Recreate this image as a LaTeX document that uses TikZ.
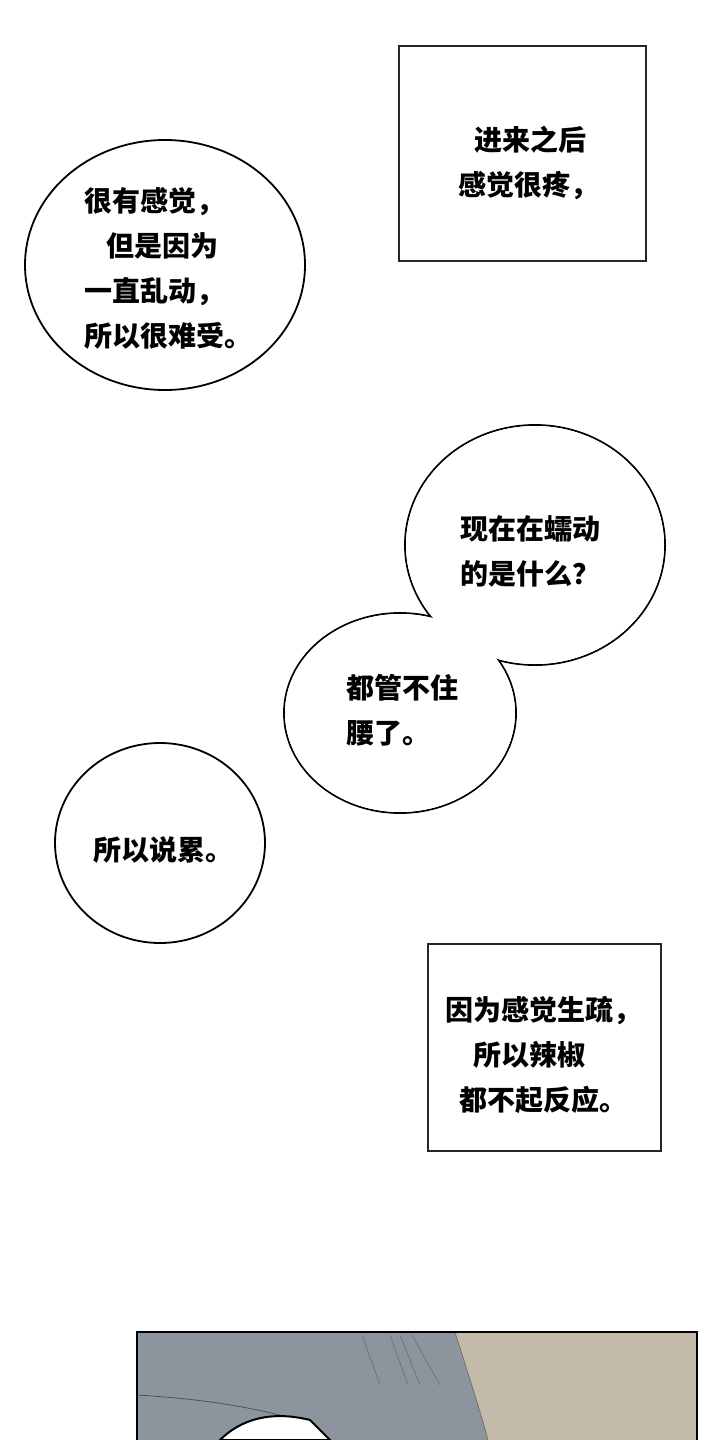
\documentclass[tikz,border=0pt]{standalone}
\usepackage{fontspec}
\newfontfamily\cjk{Noto Sans CJK SC}
\definecolor{pgray}{RGB}{140,148,158}
\definecolor{pbeige}{RGB}{196,186,170}
\begin{document}
\begin{tikzpicture}[x=1pt,y=-1pt,
  bub/.style={draw=black,line width=1.8pt,fill=white},
  box/.style={draw=black!85,line width=1.8pt,fill=white},
  txt/.style={font=\cjk\bfseries\fontsize{28}{45}\selectfont,align=left,anchor=center}]
\useasboundingbox (0,0) rectangle (720,1440);
\fill[white] (0,0) rectangle (720,1440);
% bubble 1
\draw[bub] (165,265) ellipse [x radius=140,y radius=125];
\node[txt] (t1) at (168,268) {很有感觉，\\\hspace{0.8em}但是因为\\一直乱动，\\所以很难受。};
% box 1
\node[box,minimum width=247,minimum height=215,anchor=north west] (b1) at (398,45) {};
\node[txt] (t2) at (528,163) {\hspace{0.6em}进来之后\\感觉很疼，};
% double bubble
\draw[bub] (535,545) ellipse [x radius=130,y radius=120];
\draw[bub] (400,713) ellipse [x radius=116,y radius=100];
\fill[white] (535,545) ellipse [x radius=129,y radius=119];
\fill[white] (400,713) ellipse [x radius=115,y radius=99];
\node[txt] (t3) at (530,551) {现在在蠕动\\的是什么？};
\node[txt] (t4) at (402,710) {都管不住\\腰了。};
% bubble 4
\draw[bub] (160,843) ellipse [x radius=105,y radius=100];
\node[txt] (t5) at (163,850) {所以说累。};
% box 2
\node[box,minimum width=233,minimum height=207,anchor=north west] (b2) at (427,943) {};
\node[txt] (t6) at (543,1055) {因为感觉生疏，\\\hspace{1em}所以辣椒\\\hspace{0.5em}都不起反应。};
% bottom panel
\begin{scope}
\clip (137,1332) rectangle (697,1440);
\fill[pgray] (137,1332) rectangle (697,1440);
\fill[pbeige] (455,1332) .. controls (470,1380) and (480,1410) .. (488,1440) -- (697,1440) -- (697,1332) -- cycle;
\draw[black!60,line width=0.6pt] (455,1332) .. controls (470,1380) and (480,1410) .. (488,1440);
\foreach \a/\b in {362/380,390/408,400/420,412/440}
  \draw[black!60,line width=0.5pt] (\a,1335) -- (\b,1385);
\draw[black!70,line width=0.7pt] (137,1395) .. controls (220,1400) and (260,1410) .. (300,1420);
\draw[bub,line width=2pt] (220,1440) .. controls (240,1420) and (270,1410) .. (310,1420) -- (330,1440) -- cycle;
\end{scope}
\draw[black,line width=2.5pt] (137,1440) -- (137,1332) -- (697,1332) -- (697,1440);
\end{tikzpicture}
\end{document}
